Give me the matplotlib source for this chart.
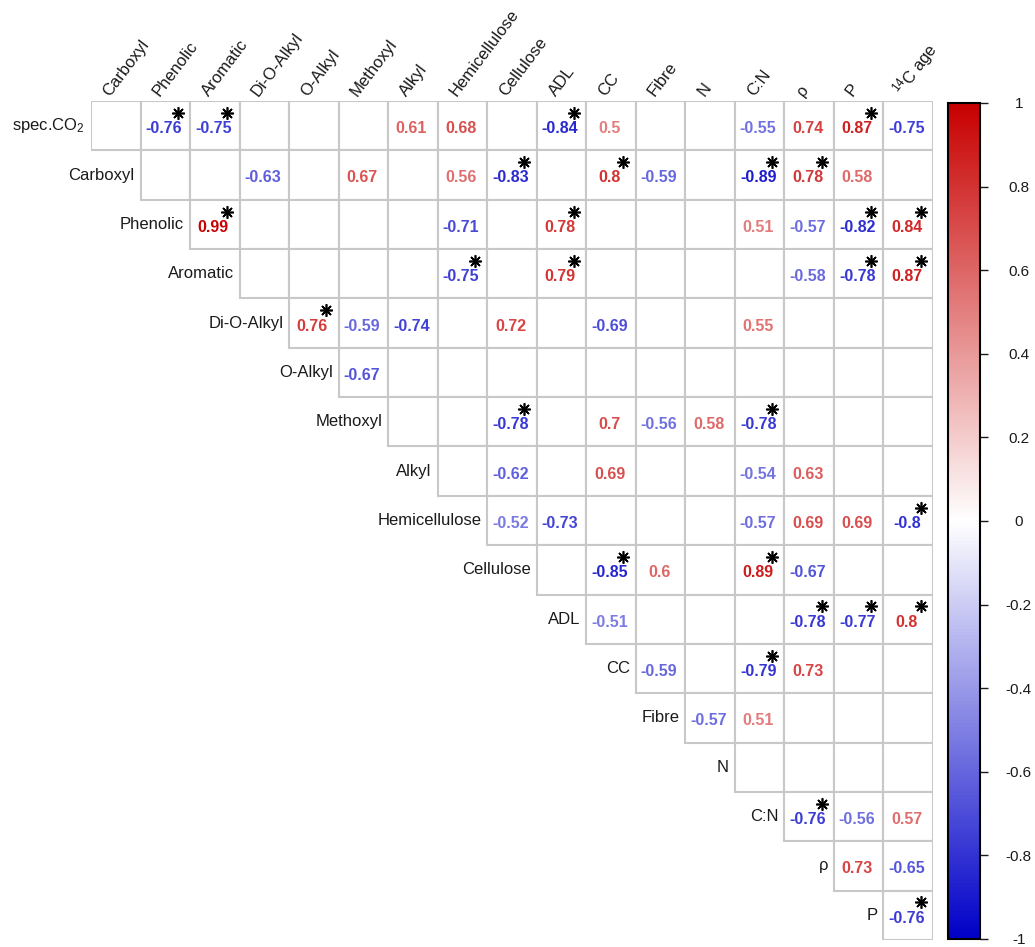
import numpy as np
import matplotlib
matplotlib.use("Agg")
import matplotlib.pyplot as plt
from matplotlib.patches import Rectangle
from matplotlib.colors import LinearSegmentedColormap, Normalize
from matplotlib.cm import ScalarMappable

plt.rcParams['font.family'] = ['Liberation Sans', 'DejaVu Sans']
plt.rcParams['mathtext.default'] = 'regular'

# variables of the correlation matrix (rows = all but last, columns = all but first)
variables = ['spec.CO2', 'Carboxyl', 'Phenolic', 'Aromatic', 'Di-O-Alkyl', 'O-Alkyl',
             'Methoxyl', 'Alkyl', 'Hemicellulose', 'Cellulose', 'ADL', 'CC', 'Fibre',
             'N', 'C:N', 'ρ', 'P', '14C age']
display = {'spec.CO2': 'spec.CO$_2$', '14C age': '$^{14}$C age'}

row_vars = variables[:-1]
col_vars = variables[1:]

# (row, column, r, significant) - only the shown correlations
pairs = [
    ('spec.CO2', 'Phenolic', -0.76, True), ('spec.CO2', 'Aromatic', -0.75, True),
    ('spec.CO2', 'Alkyl', 0.61, False), ('spec.CO2', 'Hemicellulose', 0.68, False),
    ('spec.CO2', 'ADL', -0.84, True), ('spec.CO2', 'CC', 0.5, False),
    ('spec.CO2', 'C:N', -0.55, False), ('spec.CO2', 'ρ', 0.74, False),
    ('spec.CO2', 'P', 0.87, True), ('spec.CO2', '14C age', -0.75, False),
    ('Carboxyl', 'Di-O-Alkyl', -0.63, False), ('Carboxyl', 'Methoxyl', 0.67, False),
    ('Carboxyl', 'Hemicellulose', 0.56, False), ('Carboxyl', 'Cellulose', -0.83, True),
    ('Carboxyl', 'CC', 0.8, True), ('Carboxyl', 'Fibre', -0.59, False),
    ('Carboxyl', 'C:N', -0.89, True), ('Carboxyl', 'ρ', 0.78, True),
    ('Carboxyl', 'P', 0.58, False),
    ('Phenolic', 'Aromatic', 0.99, True), ('Phenolic', 'Hemicellulose', -0.71, False),
    ('Phenolic', 'ADL', 0.78, True), ('Phenolic', 'C:N', 0.51, False),
    ('Phenolic', 'ρ', -0.57, False), ('Phenolic', 'P', -0.82, True),
    ('Phenolic', '14C age', 0.84, True),
    ('Aromatic', 'Hemicellulose', -0.75, True), ('Aromatic', 'ADL', 0.79, True),
    ('Aromatic', 'ρ', -0.58, False), ('Aromatic', 'P', -0.78, True),
    ('Aromatic', '14C age', 0.87, True),
    ('Di-O-Alkyl', 'O-Alkyl', 0.76, True), ('Di-O-Alkyl', 'Methoxyl', -0.59, False),
    ('Di-O-Alkyl', 'Alkyl', -0.74, False), ('Di-O-Alkyl', 'Cellulose', 0.72, False),
    ('Di-O-Alkyl', 'CC', -0.69, False), ('Di-O-Alkyl', 'C:N', 0.55, False),
    ('O-Alkyl', 'Methoxyl', -0.67, False),
    ('Methoxyl', 'Cellulose', -0.78, True), ('Methoxyl', 'CC', 0.7, False),
    ('Methoxyl', 'Fibre', -0.56, False), ('Methoxyl', 'N', 0.58, False),
    ('Methoxyl', 'C:N', -0.78, True),
    ('Alkyl', 'Cellulose', -0.62, False), ('Alkyl', 'CC', 0.69, False),
    ('Alkyl', 'C:N', -0.54, False), ('Alkyl', 'ρ', 0.63, False),
    ('Hemicellulose', 'Cellulose', -0.52, False), ('Hemicellulose', 'ADL', -0.73, False),
    ('Hemicellulose', 'C:N', -0.57, False), ('Hemicellulose', 'ρ', 0.69, False),
    ('Hemicellulose', 'P', 0.69, False), ('Hemicellulose', '14C age', -0.8, True),
    ('Cellulose', 'CC', -0.85, True), ('Cellulose', 'Fibre', 0.6, False),
    ('Cellulose', 'C:N', 0.89, True), ('Cellulose', 'ρ', -0.67, False),
    ('ADL', 'CC', -0.51, False), ('ADL', 'ρ', -0.78, True),
    ('ADL', 'P', -0.77, True), ('ADL', '14C age', 0.8, True),
    ('CC', 'Fibre', -0.59, False), ('CC', 'C:N', -0.79, True), ('CC', 'ρ', 0.73, False),
    ('Fibre', 'N', -0.57, False), ('Fibre', 'C:N', 0.51, False),
    ('C:N', 'ρ', -0.76, True), ('C:N', 'P', -0.56, False), ('C:N', '14C age', 0.57, False),
    ('ρ', 'P', 0.73, False), ('ρ', '14C age', -0.65, False),
    ('P', '14C age', -0.76, True),
]

cbar_ticks = [-1, -0.8, -0.6, -0.4, -0.2, 0, 0.2, 0.4, 0.6, 0.8, 1]

cmap = LinearSegmentedColormap.from_list('bwr_r', ['#0000C8', '#FFFFFF', '#C80000'])
norm = Normalize(-1, 1)
n = len(row_vars)

fig = plt.figure(figsize=(10.35, 9.47), dpi=100)
ax = fig.add_axes([91 / 1035, 1 - 940 / 947, 842 / 1035, 839 / 947])
ax.set_xlim(0, n)
ax.set_ylim(n, 0)
ax.axis('off')

# upper triangle grid
for i in range(n):
    for j in range(i, n):
        ax.add_patch(Rectangle((j, i), 1, 1, facecolor='white',
                               edgecolor='#C8C8C8', linewidth=1.5))

# labels
for i, name in enumerate(row_vars):
    ax.text(i - 0.12, i + 0.5, display.get(name, name), ha='right', va='center',
            fontsize=12, color='#1a1a1a')
for j, name in enumerate(col_vars):
    ax.text(j + 0.38, -0.08, display.get(name, name), ha='left', va='baseline',
            rotation=53, rotation_mode='anchor', fontsize=12, color='#1a1a1a')

# coefficients and significance stars
for r, c, val, sig in pairs:
    i = row_vars.index(r)
    j = col_vars.index(c)
    ax.text(j + 0.47, i + 0.56, f"{val:g}", ha='center', va='center',
            fontsize=11.5, fontweight='bold', color=cmap(norm(val)))
    if sig:
        ax.plot(j + 0.75, i + 0.24, marker=(8, 2, 0), color='black',
                markersize=9, markeredgewidth=1.2, clip_on=False)

# colour bar
cax = fig.add_axes([948 / 1035, 1 - 939 / 947, 32 / 1035, 836 / 947])
cb = fig.colorbar(ScalarMappable(norm=norm, cmap=cmap), cax=cax)
cb.outline.set_linewidth(1.5)
cb.outline.set_edgecolor('black')
cb.set_ticks(cbar_ticks)
cb.set_ticklabels([f"{t:g}" for t in cbar_ticks])
cax.tick_params(axis='y', length=6, width=1, pad=22, labelsize=11, colors='#1a1a1a')
for lab in cax.get_yticklabels():
    lab.set_horizontalalignment('center')

fig.savefig('out.png', dpi=100)
